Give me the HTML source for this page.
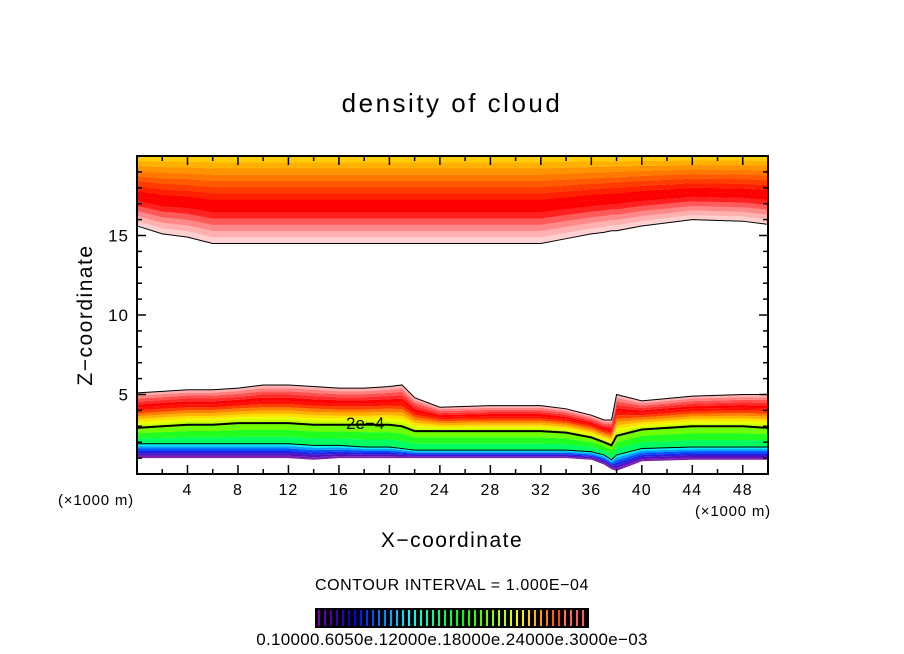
<!DOCTYPE html>
<html><head><meta charset="utf-8">
<style>
body{margin:0;background:#fff;}
svg{display:block;font-family:"Liberation Sans",sans-serif;}
</style></head>
<body>
<svg id="c" width="904" height="654" viewBox="0 0 904 654">
<g id="bands"></g>
<g id="lines"></g>
<g id="axes"></g>
<text x="452" y="112" text-anchor="middle" font-size="26" letter-spacing="2.5">density of cloud</text>
<text x="452" y="547" text-anchor="middle" font-size="21" letter-spacing="1.5">X−coordinate</text>
<text x="92" y="315" text-anchor="middle" font-size="21" letter-spacing="1.5" transform="rotate(-90 92 315)">Z−coordinate</text>
<text x="96" y="505" text-anchor="middle" font-size="15" letter-spacing="0.8">(×1000 m)</text>
<text x="733" y="516" text-anchor="middle" font-size="15" letter-spacing="0.8">(×1000 m)</text>
<text x="452" y="590" text-anchor="middle" font-size="16" letter-spacing="0.6">CONTOUR INTERVAL = 1.000E−04</text>
<text x="346" y="429" font-size="17">2e−4</text>
<g id="cbar"></g>
<text x="452" y="645" text-anchor="middle" font-size="17" letter-spacing="0.3">0.10000.6050e.12000e.18000e.24000e.3000e−03</text>
</svg>
<script>
// data (x in km, z in km)
const xs        = [0,2,4,6,8,10,12,14,16,18,20,21,22,24,28,32,34,36,37,37.6,38,40,44,48,50];
const upperBot  = [15.6,15.1,14.9,14.5,14.5,14.5,14.5,14.5,14.5,14.5,14.5,14.5,14.5,14.5,14.5,14.5,14.8,15.1,15.2,15.3,15.3,15.6,16.0,15.9,15.7];
const lowerTop  = [5.1,5.2,5.3,5.3,5.4,5.6,5.6,5.5,5.4,5.4,5.5,5.6,4.8,4.2,4.3,4.3,4.1,3.7,3.4,3.4,5.0,4.6,4.9,5.0,5.0];
const contour2  = [2.9,3.0,3.1,3.1,3.2,3.2,3.2,3.1,3.1,3.1,3.1,3.0,2.7,2.7,2.7,2.7,2.6,2.3,2.0,1.8,2.4,2.8,3.0,3.0,2.9];
const thinLine  = [1.9,1.9,1.9,1.9,1.9,1.9,1.9,1.8,1.8,1.7,1.7,1.6,1.5,1.5,1.5,1.5,1.5,1.4,1.2,0.9,1.2,1.6,1.7,1.7,1.7];
const lowerBot  = [1.0,1.0,1.0,1.0,1.0,1.0,1.0,0.9,1.0,1.0,1.0,1.0,1.0,1.0,1.0,1.0,1.0,0.9,0.6,0.3,0.2,0.8,0.9,0.9,0.9];
const xTicks = [4,8,12,16,20,24,28,32,36,40,44,48];
const zTicks = [5,10,15];

const X0=137,X1=768,Y0=474,Y1=156,XMAX=50,ZMAX=20;
const sx=x=>X0+(X1-X0)*x/XMAX, sz=z=>Y0-(Y0-Y1)*z/ZMAX;
const NS='http://www.w3.org/2000/svg';
const mk=(t,a,p)=>{const e=document.createElementNS(NS,t);for(const k in a)e.setAttribute(k,a[k]);p.appendChild(e);return e;};
const bands=document.getElementById('bands'),lines=document.getElementById('lines'),axes=document.getElementById('axes');

function band(lo,hi,f0,f1,col,name){
  const a=xs.map((x,i)=>sx(x)+','+sz(lo[i]+(hi[i]-lo[i])*f0));
  const b=xs.map((x,i)=>sx(x)+','+sz(lo[i]+(hi[i]-lo[i])*f1)).reverse();
  const p=mk('polygon',{points:a.concat(b).join(' '),fill:col},bands);
  
  
}
const top20=xs.map(()=>ZMAX);
const upCols=['#ffd0d0','#ffb0b0','#ff8888','#ff5a5a','#ff2020','#ff0000','#ff0000','#ff2000','#ff3c00','#ff5a00','#ff7800','#ff9400','#ffb000','#ffcc00'];
upCols.forEach((c,k)=>band(upperBot,top20,k/upCols.length,(k+1)/upCols.length+0.002,c,'upper-band-'+k));
const midCols=['#c0ff00','#e8ff00','#ffe000','#ffb000','#ff8000','#ff4000','#ff1000','#ff0000','#ff2a2a','#ff5050','#ff8080','#ffb0b0'];
midCols.forEach((c,k)=>band(contour2,lowerTop,k/midCols.length,(k+1)/midCols.length+0.002,c,'mid-band-'+k));
const lowCols=['#00ff60','#20ff20','#70ff00'];
lowCols.forEach((c,k)=>band(thinLine,contour2,k/lowCols.length,(k+1)/lowCols.length+0.002,c,'green-band-'+k));
const botCols=['#8020b0','#5010c0','#2020e0','#0050ff','#00a0ff','#00f0f0'];
botCols.forEach((c,k)=>band(lowerBot,thinLine,k/botCols.length,(k+1)/botCols.length+0.002,c,'blue-band-'+k));

function line(arr,w,name){
  const p=mk('polyline',{points:xs.map((x,i)=>sx(x)+','+sz(arr[i])).join(' '),fill:'none',stroke:'#000','stroke-width':w},lines);
  
  
}
line(upperBot,1,'upper-boundary-contour');
line(lowerTop,1,'lower-top-contour');
line(contour2,2,'contour-2e-4');
line(thinLine,1,'lower-contour');

const fr=mk('rect',{x:X0,y:Y1,width:X1-X0,height:Y0-Y1,fill:'none',stroke:'#000','stroke-width':2},axes);


for(let x=2;x<XMAX;x+=2){
  const big=xTicks.includes(x);
  mk('line',{x1:sx(x),x2:sx(x),y1:Y0,y2:Y0-(big?9:5),stroke:'#000','stroke-width':1.5},axes);
  mk('line',{x1:sx(x),x2:sx(x),y1:Y1,y2:Y1+(big?9:5),stroke:'#000','stroke-width':1.5},axes);
}
xTicks.forEach(x=>{const t=mk('text',{x:sx(x),y:495,'text-anchor':'middle','font-size':16,'letter-spacing':1},axes);t.textContent=x;
  
  });
for(let z=1;z<ZMAX;z++){
  const big=zTicks.includes(z);
  mk('line',{x1:X0,x2:X0+(big?9:5),y1:sz(z),y2:sz(z),stroke:'#000','stroke-width':1.5},axes);
  mk('line',{x1:X1,x2:X1-(big?9:5),y1:sz(z),y2:sz(z),stroke:'#000','stroke-width':1.5},axes);
}
zTicks.forEach(z=>{const t=mk('text',{x:129,y:sz(z)+6,'text-anchor':'end','font-size':17,'letter-spacing':1},axes);t.textContent=z;
  
  });

const cb=document.getElementById('cbar');
mk('rect',{x:315,y:608,width:274,height:20,fill:'#000'},cb);
const n=45;
for(let i=0;i<n;i++){
  let h=280-290*i/(n-1); if(h<0)h=0;
  const l=i>n*0.9?68:(i<6?35:50);
  mk('rect',{x:318+i*6,y:610,width:2,height:16,fill:`hsl(${h},100%,${l}%)`},cb);
}
</script>
</body></html>
